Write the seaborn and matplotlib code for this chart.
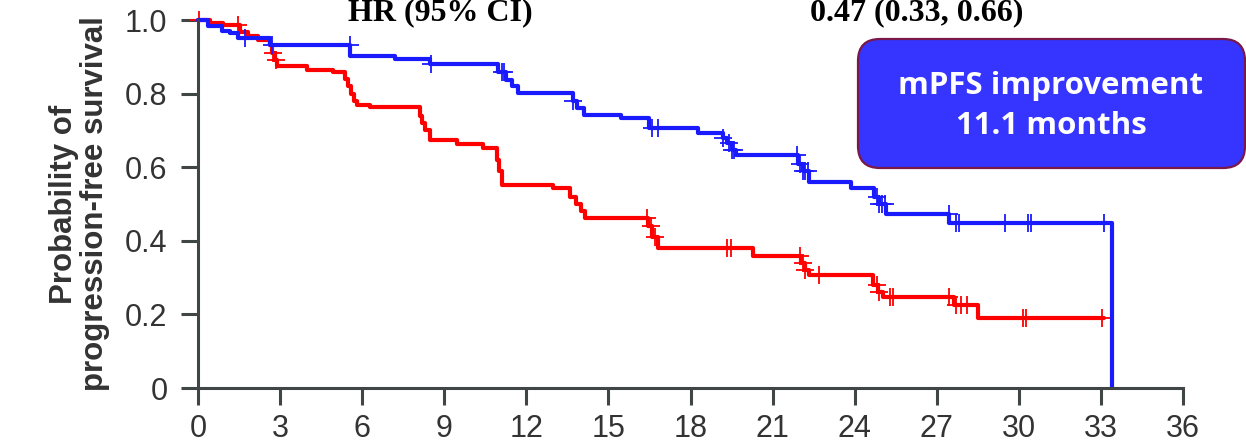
import matplotlib.pyplot as plt
import matplotlib.patches as mpatches
import matplotlib.transforms as mtransforms
import numpy as np
import seaborn as sns

# Kaplan-Meier steps (months, survival)
blue_times = [0, 0.36, 0.87, 1.16, 1.45, 2.63, 5.56, 7.2, 8.49, 10.98, 11.24, 11.49, 11.71,
              13.7, 13.85, 14.1, 15.45, 16.5, 18.26, 19.2, 19.35, 19.5, 19.65,
              21.93, 22.1, 22.33, 23.87, 24.71, 24.9, 25.15, 27.46, 33.4, 33.4]
blue_surv = [1.0, 0.983, 0.970, 0.964, 0.950, 0.933, 0.903, 0.894, 0.880, 0.860, 0.838, 0.820, 0.802,
             0.780, 0.760, 0.743, 0.734, 0.706, 0.694, 0.680, 0.665, 0.648, 0.632,
             0.610, 0.590, 0.561, 0.543, 0.520, 0.500, 0.473, 0.448, 0.448, 0.0]
blue_censor = [1.7, 2.7, 5.55, 8.5, 11.1, 11.2, 13.7, 16.6, 16.8, 19.2, 19.4, 19.5, 19.6,
               21.9, 22.0, 22.1, 22.2, 22.3, 24.8, 24.9, 25.0, 25.1,
               27.45, 27.7, 27.8, 29.5, 30.35, 30.45, 33.1]

red_times = [0, 0.43, 0.9, 1.53, 1.82, 2.2, 2.63, 2.7, 2.8, 2.9, 3.98, 4.93,
             5.37, 5.5, 5.6, 5.7, 5.81, 6.29, 8.1, 8.2, 8.3, 8.49, 9.47, 10.43,
             10.94, 11.0, 11.12, 12.99, 13.61, 13.8, 14.0, 14.16, 16.43, 16.6, 16.8,
             20.28, 22.03, 22.2, 22.33, 24.68, 24.85, 25.04, 27.64, 28.52, 33.13]
red_surv = [1.0, 0.991, 0.986, 0.968, 0.957, 0.945, 0.933, 0.910, 0.890, 0.874, 0.865, 0.859,
            0.840, 0.820, 0.800, 0.780, 0.770, 0.763, 0.740, 0.720, 0.700, 0.675, 0.662, 0.652,
            0.620, 0.590, 0.552, 0.543, 0.520, 0.500, 0.480, 0.463, 0.440, 0.410, 0.381,
            0.360, 0.340, 0.320, 0.307, 0.280, 0.260, 0.248, 0.225, 0.189, 0.189]
red_censor = [0.05, 1.45, 2.75, 2.85, 16.4, 16.55, 16.7, 19.35, 19.47, 22.0, 22.1, 22.2, 22.7,
              24.8, 24.9, 25.3, 25.4, 27.45, 27.7, 27.9, 28.1, 30.15, 30.25, 33.05]

x_ticks = list(range(0, 37, 3))
y_ticks = [0, 0.2, 0.4, 0.6, 0.8, 1.0]
y_tick_labels = ['0', '0.2', '0.4', '0.6', '0.8', '1.0']

BLUE = '#1a1aff'
RED = '#ff0000'
AXIS = '#404545'
TEXT = '#333333'


def surv_at(times, surv, t):
    i = np.searchsorted(times, t, side='right') - 1
    return surv[i]


sns.set_style('ticks')
plt.rcParams['font.family'] = ['Liberation Sans', 'DejaVu Sans']

fig = plt.figure(figsize=(12.46, 4.48), dpi=100)
ax = fig.add_axes([198 / 1246, 1 - 388 / 448, (1183 - 198) / 1246, (388 - 20) / 448])

for times, surv, cens, color in [(red_times, red_surv, red_censor, RED),
                                 (blue_times, blue_surv, blue_censor, BLUE)]:
    sns.lineplot(x=times, y=surv, drawstyle='steps-post', color=color, linewidth=3.0,
                 sort=False, estimator=None, ax=ax, clip_on=False)
    cy = [surv_at(times, surv, t) for t in cens]
    ax.plot(cens, cy, linestyle='none', marker='+', markersize=13,
            markeredgewidth=1.3, color=color, clip_on=False)

ax.set_xlim(0, 36)
ax.set_ylim(0, 1.0)
ax.set_xticks(x_ticks)
ax.set_xticklabels([str(v) for v in x_ticks])
ax.set_yticks(y_ticks)
ax.set_yticklabels(y_tick_labels)
sns.despine(ax=ax)
for side in ['left', 'bottom']:
    ax.spines[side].set_color(AXIS)
    ax.spines[side].set_linewidth(2.2)
ax.tick_params(axis='both', length=12, width=2.2, color=AXIS, labelcolor=TEXT,
               labelsize=22)
ax.tick_params(axis='y', pad=10)
ax.tick_params(axis='x', pad=7)

ax.set_ylabel('Probability of\nprogression-free survival', fontsize=22.5,
              fontweight='bold', color=TEXT, linespacing=1.05, labelpad=11)

fig.text(440 / 1246, 1 - 20 / 448, 'HR (95% CI)', ha='center', va='baseline',
         fontsize=23, fontweight='bold', family=['Liberation Serif'], color='black')
fig.text(917 / 1246, 1 - 20 / 448, '0.47 (0.33, 0.66)', ha='center', va='baseline',
         fontsize=23, fontweight='bold', family=['Liberation Serif'], color='black')

box = mpatches.FancyBboxPatch((858, 448 - 168), 387, 129,
                              boxstyle='round,pad=0,rounding_size=22',
                              facecolor='#3535ff', edgecolor='#7a1848', linewidth=1.6,
                              transform=mtransforms.IdentityTransform())
fig.patches.append(box)
fig.text(1051 / 1246, 1 - 106 / 448, 'mPFS improvement\n11.1 months', ha='center',
         va='center', fontsize=22.5, fontweight='bold', family=['Open Sans', 'DejaVu Sans'],
         color='white', linespacing=1.4)

fig.savefig('out.png', dpi=100)
